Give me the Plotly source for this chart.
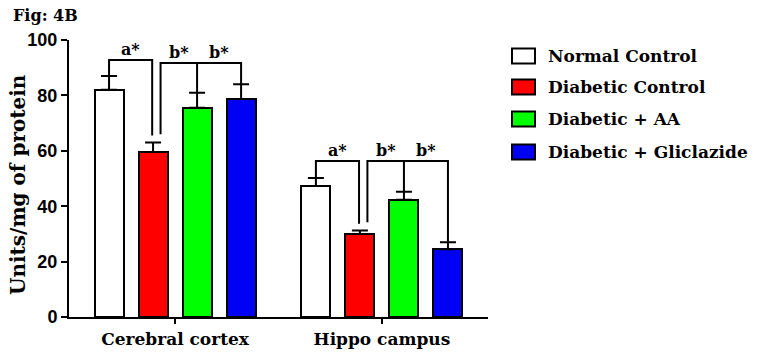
import plotly.graph_objects as go

# ---------------- data ----------------
groups = ["Cerebral cortex", "Hippo campus"]
series = ["Normal Control", "Diabetic Control", "Diabetic + AA", "Diabetic + Gliclazide"]
colors = ["#ffffff", "#ff0000", "#00ff00", "#0000f5"]
means = [
    [82.0, 47.3],   # Normal Control
    [59.6, 30.0],   # Diabetic Control
    [75.5, 42.3],   # Diabetic + AA
    [78.7, 24.5],   # Diabetic + Gliclazide
]
errors = [
    [5.0, 2.9],
    [3.4, 1.2],
    [5.5, 2.9],
    [5.3, 2.5],
]
bracket_a_top = [92.8, 56.3]
bracket_b_top = [91.7, 56.3]
yticks = [0, 20, 40, 60, 80, 100]
y_title = "Units/mg of protein"

# ---------------- layout helpers ----------------
group_centers = [0.0, 4.7]
offsets = [-1.5, -0.5, 0.5, 1.5]
bar_w = 0.66

SERIF = "DejaVu Serif"
SANS = "Liberation Sans"

fig = go.Figure()
for i, name in enumerate(series):
    xs = [gc + offsets[i] for gc in group_centers]
    fig.add_trace(go.Bar(
        x=xs, y=means[i], width=bar_w, name=name,
        marker=dict(color=colors[i], line=dict(color="black", width=2)),
        error_y=dict(type="data", symmetric=False, array=errors[i],
                     arrayminus=[0] * len(groups), color="black",
                     thickness=2, width=8),
        showlegend=False,
    ))

shapes = []
annotations = []

def bar_x(g, i):
    return group_centers[g] + offsets[i]

def top(g, i):
    return means[i][g] + errors[i][g]

for g in range(len(groups)):
    # a* bracket: Normal Control vs Diabetic Control
    ya = bracket_a_top[g]
    xl, xr = bar_x(g, 0), bar_x(g, 1) - 0.02
    shapes.append(dict(type="path", xref="x", yref="y",
                       path=f"M {xl},{top(g,0)} L {xl},{ya} L {xr},{ya} L {xr},{top(g,1)+2.5}",
                       line=dict(color="black", width=2)))
    annotations.append(dict(x=(xl + xr) / 2, y=ya, xref="x", yref="y", text="<b>a*</b>",
                            showarrow=False, yanchor="bottom", yshift=-1,
                            font=dict(family=SERIF, size=16, color="black")))
    # b* bracket: Diabetic Control vs AA and Gliclazide
    yb = bracket_b_top[g]
    x1 = bar_x(g, 1) + 0.17
    x2 = bar_x(g, 2)
    x3 = bar_x(g, 3)
    shapes.append(dict(type="path", xref="x", yref="y",
                       path=(f"M {x1},{top(g,1)+3.0} L {x1},{yb} L {x3},{yb} L {x3},{top(g,3)} "
                             f"M {x2},{yb} L {x2},{top(g,2)}"),
                       line=dict(color="black", width=2)))
    for xa, xb in [(x1, x2), (x2, x3)]:
        annotations.append(dict(x=(xa + xb) / 2, y=yb, xref="x", yref="y", text="<b>b*</b>",
                                showarrow=False, yanchor="bottom", yshift=-1,
                                font=dict(family=SERIF, size=16, color="black")))

# ---------------- manual legend ----------------
L, R, T, B = 69, 280, 40, 37
W, H = 768 - L - R, 354 - T - B

def px_x(px):
    return (px - L) / W

def px_y(py):
    return (354 - B - py) / H

row_y = [56, 87, 119, 152]
for i, name in enumerate(series):
    cy = row_y[i]
    shapes.append(dict(type="rect", xref="paper", yref="paper",
                       x0=px_x(512), x1=px_x(535), y0=px_y(cy + 7.5), y1=px_y(cy - 7.5),
                       fillcolor=colors[i], line=dict(color="black", width=2)))
    annotations.append(dict(x=px_x(546), y=px_y(cy), xref="paper", yref="paper",
                            text=f"<b>{name}</b>", showarrow=False,
                            xanchor="left", yanchor="middle",
                            font=dict(family=SERIF, size=17, color="black")))

annotations.append(dict(x=px_x(11), y=px_y(15), xref="paper", yref="paper",
                        text="<b>Fig: 4B</b>", showarrow=False,
                        xanchor="left", yanchor="middle",
                        font=dict(family=SERIF, size=16, color="black")))

# y-axis title as rotated annotation
annotations.append(dict(x=px_x(18), y=px_y(185), xref="paper", yref="paper",
                        text=f"<b>{y_title}</b>", showarrow=False, textangle=-90,
                        xanchor="center", yanchor="middle",
                        font=dict(family=SERIF, size=20, color="black")))

fig.update_layout(
    width=768, height=354,
    margin=dict(l=L, r=R, t=T, b=B, autoexpand=False),
    paper_bgcolor="white", plot_bgcolor="white",
    bargap=0,
    shapes=shapes, annotations=annotations,
    showlegend=False,
    xaxis=dict(range=[-2.41, 7.11], tickvals=group_centers,
               ticktext=[f"<b>{g}</b>" for g in groups],
               ticks="outside", ticklen=5, tickwidth=2, tickcolor="black",
               ticklabelstandoff=1, automargin=False,
               showline=True, linewidth=2, linecolor="black",
               showgrid=False, zeroline=False,
               tickfont=dict(family=SERIF, size=17, color="black")),
    yaxis=dict(range=[0, 100], tickvals=yticks,
               ticktext=[f"<b>{v}</b>" for v in yticks],
               ticks="outside", ticklen=6, tickwidth=2, tickcolor="black",
               automargin=False,
               showline=True, linewidth=2, linecolor="black",
               showgrid=False, zeroline=False,
               tickfont=dict(family=SANS, size=18, color="black")),
)

fig.write_html("out.html")
